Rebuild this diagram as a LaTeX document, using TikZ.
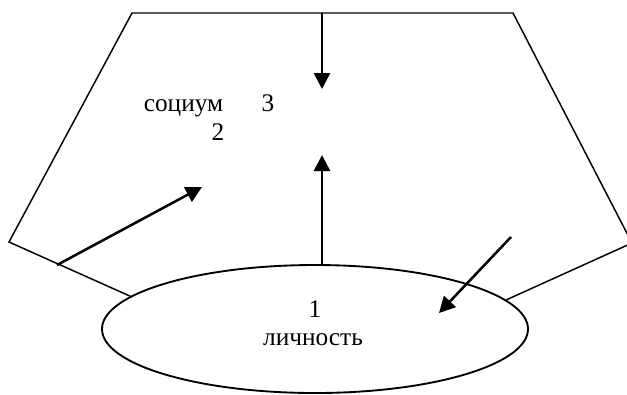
\documentclass[tikz,border=0pt]{standalone}
\usepackage{fontspec}
\setmainfont{Liberation Serif}
\usetikzlibrary{arrows.meta,shapes.geometric}
\begin{document}
\begin{tikzpicture}[x=0.75pt,y=-0.75pt,
  outline/.style={line width=1.1pt},
  arr/.style={line width=1.9pt,-{Triangle[length=12pt,width=12pt]}},
  lbl/.style={anchor=base,inner sep=0pt,font=\fontsize{19}{22}\selectfont}]
\useasboundingbox (0,0) rectangle (627,394);
\clip (0,0) rectangle (627,394);
% personality ellipse
\node[draw,ellipse,line width=1.4pt,minimum width=319.5pt,minimum height=96pt,inner sep=0pt] (lich) at (315,329) {};
% society polygon
\coordinate (pL1) at (132,297);
\coordinate (pL2) at (9,242);
\coordinate (pT1) at (132,13);
\coordinate (pT2) at (513,13);
\coordinate (pR1) at (632,243);
\coordinate (pR2) at (506,300);
\draw[outline] (pL1) -- (pL2) -- (pT1) -- (pT2) -- (pR1) -- (pR2);
% arrows
\coordinate (dA) at (322,13);
\coordinate (dB) at (322,89);
\coordinate (uA) at (322,265);
\coordinate (uB) at (322,155);
\coordinate (lA) at (57,265);
\coordinate (lB) at (202,187);
\coordinate (rA) at (511,237);
\coordinate (rB) at (439,313);
\draw[arr] (dA) -- (dB);
\draw[arr] (uA) -- (uB);
\draw[arr] (lA) -- (lB);
\draw[arr] (rA) -- (rB);
% labels
\node[lbl] (soc) at (183.5,111) {социум};
\node[lbl] (n3) at (268,111) {3};
\node[lbl] (n2) at (218,140) {2};
\node[lbl] (n1) at (315,317) {1};
\node[lbl] (lt) at (313,345) {личность};
\end{tikzpicture}
\end{document}
